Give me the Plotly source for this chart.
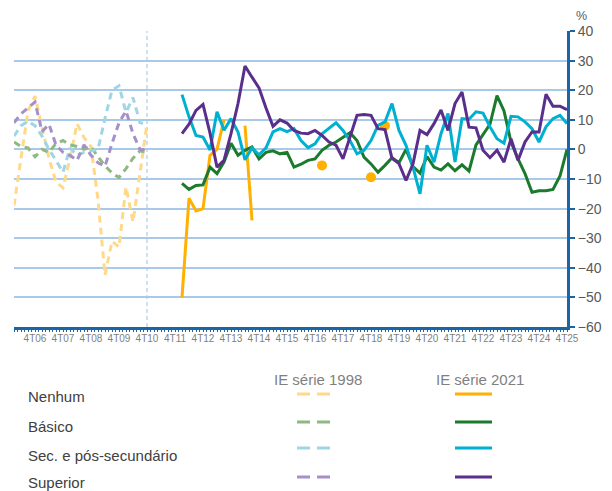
import plotly.graph_objects as go

# quarter labels, 1T06 .. 4T25
quarters = [f"{q}T{y:02d}" for y in range(6, 26) for q in range(1, 5)]
tick_labels = [q for q in quarters if q.startswith("4T")]

# IE série 1998: 1T06 .. 4T10
q_1998 = quarters[0:20]
nenhum_1998 = [-19, -3, 13, 18, 8, -3, -11, -13, -3, 8.7, 4, 1, -17, -42.5, -31, -33, -12.7, -24.5, -8, 8.7]
basico_1998 = [2.5, 1, 0.5, -2.5, 0, -1, 2, 3, 1.5, 1, 0, 1, -2.5, -5.5, -8, -9.5, -6.5, -3, -0.5, -1]
sec_1998 = [4.5, 8, 9.5, 8, 4.5, 0, -3.7, -7.7, 0.5, -2, -1, -0.5, 0, 10.5, 20, 21.5, 12.5, 17.5, 9, 8.5]
sup_1998 = [9, 12, 14, 16, 6, 8.5, 1.5, -1, -2, -3.7, 1.5, -2, -4.5, -5.7, 2, 9, 13, 5.3, 0, 0]

# IE série 2021: 1T12 .. 4T25
q_2021 = quarters[24:80]
N = None
nenhum_2021 = [-50, -16.5, -20.8, -20, -2, 0, 10, N, N, 8, -24, N, N, N, N, N, N, N, N, N,
               -5.4, N, N, N, N, N, N, -9.4, N, 8, N, N, N, N, N, N, N, N, N, N,
               N, N, N, N, N, N, N, N, N, N, N, N, N, N, N, N]
basico_2021 = [-11.5, -13.5, -12.2, -12, -6, -8.2, -4.3, 2.1, -2, -0.3, 0.8, -3.2, -1, -0.5, -1.5, -1,
               -6, -5, -3.7, -3.2, -0.3, 1.4, 2.5, 4.2, 5.6, 3, -2.6, -4.9, -7.7, -5.4, -2.8, -4.5,
               0, -5.8, -8, -2.4, -6, -7, -4.9, -7.2, -5.2, -7.3, 1.5, 5, 8.5, 18.2, 13, 2.5,
               -3.2, -8.2, -14.5, -14, -14, -13.5, -9, 0]
sec_2021 = [18.5, 11, 4.7, 4.2, -0.2, 12.7, 6.5, 10.4, 5.9, -3.5, 0.5, -1.8, 0.5, 5.9, 7, 6,
            7, 3, 0.6, 1.9, 5.3, 7, 9, 6.4, 3, -1.5, -0.3, 3, 8.1, 9.3, 15.5, 6.4,
            1.4, -6, -15, 1.4, -4.3, 5.3, 12.1, -4.3, 10.4, 10.2, 12.7, 12.3, 7.6, 3.6, 2.1, 11.2,
            11, 9.3, 7, 2.5, 7.6, 10.4, 11.5, 8.7]
sup_2021 = [5.3, 8.5, 13.2, 15.2, 5.5, -6, -3.7, 5.3, 15.5, 28.2, 24.4, 20.8, 14, 7.8, 10, 8.9,
            6.4, 5.5, 5.3, 6.4, 4.7, 2.5, 1.4, -3.2, 4.2, 11.5, 11.8, 11.5, 7, 6.7, -3, -4.8,
            -10.5, -4.9, 6.4, 5, 8.7, 13.3, 6.4, 15.5, 19.4, 7.5, 7.3, -0.3, -2.8, -0.3, -4.3, 3.6,
            -3.7, 2.5, 5.9, 5.9, 18.6, 14.6, 14.6, 13.4]

groups = ["Nenhum", "Básico", "Sec. e pós-secundário", "Superior"]
colors_1998 = ["#ffd98a", "#8fb882", "#9fd6e6", "#a590c9"]
colors_2021 = ["#ffb000", "#1b7a2c", "#00b0d0", "#5a2f8c"]

BLUE = "#1a65a6"
GRID = "#a9c9e8"

fig = go.Figure()

pos = {q: i for i, q in enumerate(quarters)}

for ys, c in zip([nenhum_1998, basico_1998, sec_1998, sup_1998], colors_1998):
    fig.add_trace(go.Scatter(
        x=[pos[q] for q in q_1998], y=ys, mode="lines",
        line=dict(color=c, width=3, dash="7px,5px"),
        showlegend=False, hoverinfo="skip",
    ))

for ys, c in zip([nenhum_2021, basico_2021, sec_2021, sup_2021], colors_2021):
    xs = [pos[q] for q in q_2021]
    fig.add_trace(go.Scatter(
        x=xs, y=ys, mode="lines", connectgaps=False,
        line=dict(color=c, width=3),
        showlegend=False, hoverinfo="skip",
    ))
    # isolated points (no neighbours) drawn as dots
    iso_x, iso_y = [], []
    for k, v in enumerate(ys):
        if v is None:
            continue
        prev_v = ys[k - 1] if k > 0 else None
        next_v = ys[k + 1] if k < len(ys) - 1 else None
        if prev_v is None and next_v is None:
            iso_x.append(xs[k])
            iso_y.append(v)
    if iso_x:
        fig.add_trace(go.Scatter(
            x=iso_x, y=iso_y, mode="markers",
            marker=dict(color=c, size=10),
            showlegend=False, hoverinfo="skip",
        ))

# break between series
fig.add_shape(type="line", xref="x", yref="paper", x0=pos["4T10"], x1=pos["4T10"],
              y0=0, y1=1, line=dict(color="#9dc3e6", width=1, dash="4px,3px"), layer="below")

# plot area in screenshot pixels (page body has an 8px margin)
OFF = 8
L, R, T, B = 14, 567, 31, 327
W, H = 612 - OFF, 491 - OFF


def px_x(p):
    return (p - L) / (R - L)


def px_y(p):
    return (B - p) / (B - T)


ann = []
ann.append(dict(x=px_x(581), y=px_y(16), text="%",
                font=dict(size=12.5, color="#595959"), borderpad=0))
ann.append(dict(x=px_x(318), y=px_y(379), text="IE série 1998",
                font=dict(size=15, color="#7f7f7f")))
ann.append(dict(x=px_x(480), y=px_y(379), text="IE série 2021",
                font=dict(size=15, color="#7f7f7f")))

row_y = [396, 426, 455, 482]
line_y = [394, 422, 448, 477]
for name, ty, ly, c98, c21 in zip(groups, row_y, line_y, colors_1998, colors_2021):
    ann.append(dict(x=px_x(26), y=px_y(ty), text=name, xanchor="left",
                    font=dict(size=15, color="#404040")))
    fig.add_shape(type="line", xref="paper", yref="paper",
                  x0=px_x(297), x1=px_x(331), y0=px_y(ly), y1=px_y(ly),
                  line=dict(color=c98, width=3, dash="13px,7px"))
    fig.add_shape(type="line", xref="paper", yref="paper",
                  x0=px_x(455), x1=px_x(492), y0=px_y(ly), y1=px_y(ly),
                  line=dict(color=c21, width=3))

for a in ann:
    a["xref"] = "paper"
    a["yref"] = "paper"
    a["showarrow"] = False
    a.setdefault("xanchor", "center")
    a["yanchor"] = "middle"

fig.update_layout(
    width=W, height=H,
    margin=dict(l=L - OFF, r=W - (R - OFF), t=T - OFF, b=H - (B - OFF), autoexpand=False),
    paper_bgcolor="white", plot_bgcolor="white",
    font=dict(family="Liberation Sans, Arial, sans-serif"),
    annotations=ann,
    showlegend=False,
)
fig.update_xaxes(
    range=[0, 79],
    tickmode="array",
    tickvals=[pos[t] for t in tick_labels],
    ticktext=tick_labels,
    tickfont=dict(size=10, color="#7f7f7f"),
    showgrid=False, zeroline=False,
    showline=True, linecolor=BLUE, linewidth=3,
    ticks="", ticklen=0,
    minor=dict(dtick=0.5, ticks="outside", ticklen=2, tickcolor=BLUE, tickwidth=1),
)
fig.update_yaxes(
    range=[-60, 40], dtick=10, side="right",
    showgrid=True, gridcolor=GRID, gridwidth=1.5,
    zeroline=False,
    showline=True, linecolor=BLUE, linewidth=3,
    ticks="outside", ticklen=5, tickcolor=BLUE, tickwidth=2,
    tickfont=dict(size=14, color="#595959"),
)

fig.write_html("out.html")
